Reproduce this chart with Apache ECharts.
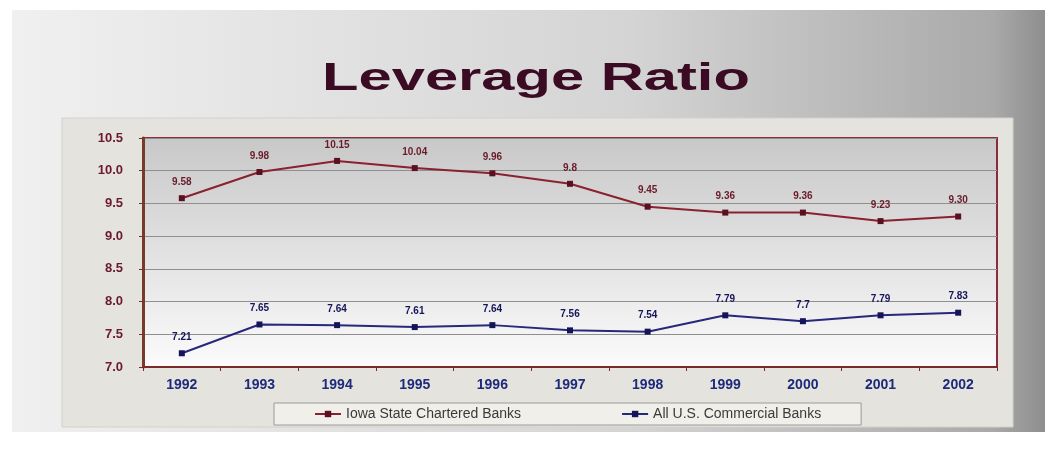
<!DOCTYPE html>
<html><head><meta charset="utf-8">
<script src="https://cdn.jsdelivr.net/npm/echarts@6/dist/echarts.min.js"></script>
<style>html,body{margin:0;padding:0;background:#fff}#c{width:1045px;height:458px}</style>
</head><body><div id="c"></div>
<script>
const years = ['1992','1993','1994','1995','1996','1997','1998','1999','2000','2001','2002'];
const iowa = [9.58, 9.98, 10.15, 10.04, 9.96, 9.8, 9.45, 9.36, 9.36, 9.23, 9.30];
const iowaLabels = ['9.58','9.98','10.15','10.04','9.96','9.8','9.45','9.36','9.36','9.23','9.30'];
const us = [7.21, 7.65, 7.64, 7.61, 7.64, 7.56, 7.54, 7.79, 7.7, 7.79, 7.83];
const usLabels = ['7.21','7.65','7.64','7.61','7.64','7.56','7.54','7.79','7.7','7.79','7.83'];
const seriesNames = ['Iowa State Chartered Banks', 'All U.S. Commercial Banks'];

const chart = echarts.init(document.getElementById('c'));
chart.setOption({
  animation: false,
  backgroundColor: '#ffffff',
  graphic: [
    { type: 'rect', z: -10, shape: { x: 12, y: 10, width: 1033, height: 422 },
      style: { fill: new echarts.graphic.LinearGradient(0, 0, 1, 0, [
        { offset: 0, color: '#f0f0f0' }, { offset: 0.6, color: '#d4d4d4' }, { offset: 0.95, color: '#a9a9a9' }, { offset: 1, color: '#8e8e8e' }]) } },
    { type: 'rect', z: -9, shape: { x: 62, y: 118, width: 951, height: 309 },
      style: { fill: '#e4e3de', stroke: '#d2d1cc', lineWidth: 1 } },
    { type: 'text', z: 10, x: 536, y: 79, scaleX: 1.53,
      style: { text: 'Leverage Ratio', font: 'bold 39px "Liberation Sans", Arial, sans-serif',
        fill: '#3a0b22', textAlign: 'center', textVerticalAlign: 'middle' } }
  ],
  grid: { left: 143, right: 48, top: 138, bottom: 91, show: true,
    borderColor: '#8a2c3c', borderWidth: 2,
    backgroundColor: new echarts.graphic.LinearGradient(0, 0, 0, 1, [
      { offset: 0, color: '#c8c8c8' }, { offset: 1, color: '#fbfbfb' }]) },
  legend: {
    bottom: 33, left: 274, itemWidth: 26, itemHeight: 8, itemGap: 100,
    backgroundColor: '#f0efea', borderColor: '#9a9a9a', borderWidth: 1, padding: [4, 40],
    textStyle: { fontFamily: '"Liberation Sans", Arial, sans-serif', fontSize: 14, color: '#3a3a3a' },
    data: seriesNames
  },
  xAxis: {
    type: 'category', data: years, boundaryGap: true,
    axisLine: { lineStyle: { color: '#7a2a2a', width: 2 } },
    axisTick: { show: true, length: 4, lineStyle: { color: '#7a2a2a' } },
    axisLabel: { color: '#1d2a7a', fontWeight: 'bold', fontSize: 14, margin: 11,
      fontFamily: '"Liberation Sans", Arial, sans-serif' }
  },
  yAxis: {
    type: 'value', min: 7, max: 10.5, interval: 0.5,
    axisLine: { show: true, lineStyle: { color: '#7a3a2a', width: 3 } },
    axisTick: { show: true, length: 4, lineStyle: { color: '#7a2a2a' } },
    splitLine: { lineStyle: { color: '#8f8f8f', width: 1 } },
    axisLabel: { color: '#6a1a2a', fontWeight: 'bold', fontSize: 13, margin: 20,
      fontFamily: '"Liberation Sans", Arial, sans-serif',
      formatter: v => v.toFixed(1) }
  },
  series: [
    { name: seriesNames[0], type: 'line', data: iowa, symbol: 'rect', symbolSize: 6,
      lineStyle: { color: '#8b2030', width: 2 }, itemStyle: { color: '#5a1020' },
      label: { show: true, position: 'top', distance: 8, fontSize: 10, fontWeight: 'bold', color: '#6a1a2a',
        formatter: p => iowaLabels[p.dataIndex] } },
    { name: seriesNames[1], type: 'line', data: us, symbol: 'rect', symbolSize: 6,
      lineStyle: { color: '#28287a', width: 2 }, itemStyle: { color: '#14145a' },
      label: { show: true, position: 'top', distance: 8, fontSize: 10, fontWeight: 'bold', color: '#14145a',
        formatter: p => usLabels[p.dataIndex] } }
  ]
});
</script></body></html>
